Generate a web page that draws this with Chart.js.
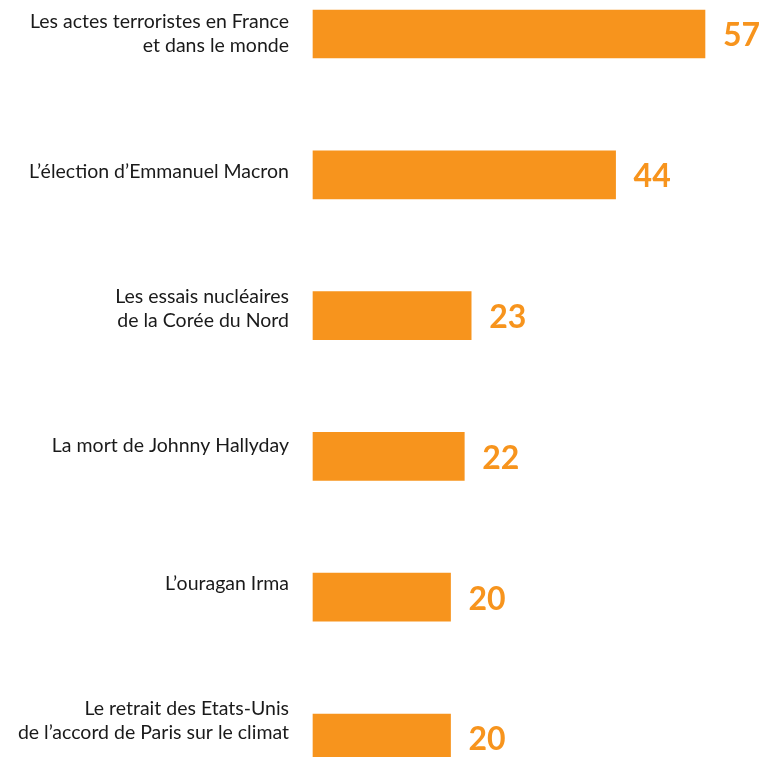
<!DOCTYPE html>
<html>
<head>
<meta charset="utf-8">
<script src="https://cdn.jsdelivr.net/npm/chart.js@4/dist/chart.umd.min.js"></script>
<style>
  html, body { margin: 0; padding: 0; background: #fff; }
  #wrap { width: 765px; height: 757px; position: relative; }
</style>
</head>
<body>
<div id="wrap"><canvas id="chart"></canvas></div>
<script>
const categories = [
    ['Les actes terroristes en France', 'et dans le monde'],
    ['L\u2019élection d\u2019Emmanuel Macron'],
    ['Les essais nucléaires', 'de la Corée du Nord'],
    ['La mort de Johnny Hallyday'],
    ['L\u2019ouragan Irma'],
    ['Le retrait des Etats-Unis', 'de l\u2019accord de Paris sur le climat'],
];
const values = [57, 44, 23, 22, 20, 20];

const ORANGE = '#F7941D';

// draws the numbers to the right of each bar
const valueLabels = {
    id: 'valueLabels',
    afterDatasetsDraw(chart) {
        const ctx = chart.ctx;
        const meta = chart.getDatasetMeta(0);
        ctx.save();
        ctx.fillStyle = ORANGE;
        ctx.font = 'bold 32px Lato';
        ctx.textAlign = 'left';
        ctx.textBaseline = 'middle';
        meta.data.forEach((bar, i) => {
            ctx.fillText(String(values[i]), bar.x + 18, bar.y + 2);
        });
        ctx.restore();
    }
};

new Chart(document.getElementById('chart'), {
    type: 'bar',
    data: {
        labels: categories.map(c => c.join(' ')),
        datasets: [{
            data: values,
            backgroundColor: ORANGE,
            barThickness: 48,
            clip: false,
        }]
    },
    options: {
        indexAxis: 'y',
        responsive: true,
        maintainAspectRatio: false,
        animation: false,
        layout: { padding: { top: 34, bottom: 19, right: 5, left: 0 } },
        scales: {
            x: {
                display: false,
                min: 0,
                max: 65,
            },
            y: {
                display: false,
                offset: false,
            },
            // label axis: the text sits a little closer together than the bars
            yl: {
                type: 'linear',
                position: 'left',
                reverse: true,
                offset: false,
                min: 0,
                max: 5.124,
                afterBuildTicks(scale) {
                    scale.ticks = categories.map((c, i) => ({ value: i }));
                },
                afterFit(scale) {
                    scale.width = 313;
                    scale.paddingTop = 0;
                    scale.paddingBottom = 0;
                },
                grid: { display: false, drawTicks: false },
                border: { display: false },
                ticks: {
                    padding: 24,
                    color: '#1a1a1a',
                    font: { family: 'Lato', size: 19.5, lineHeight: 1.23 },
                    callback: (v) => categories[v],
                },
            },
        },
        plugins: {
            legend: { display: false },
            tooltip: { enabled: false },
        },
    },
    plugins: [valueLabels],
});
</script>
</body>
</html>
